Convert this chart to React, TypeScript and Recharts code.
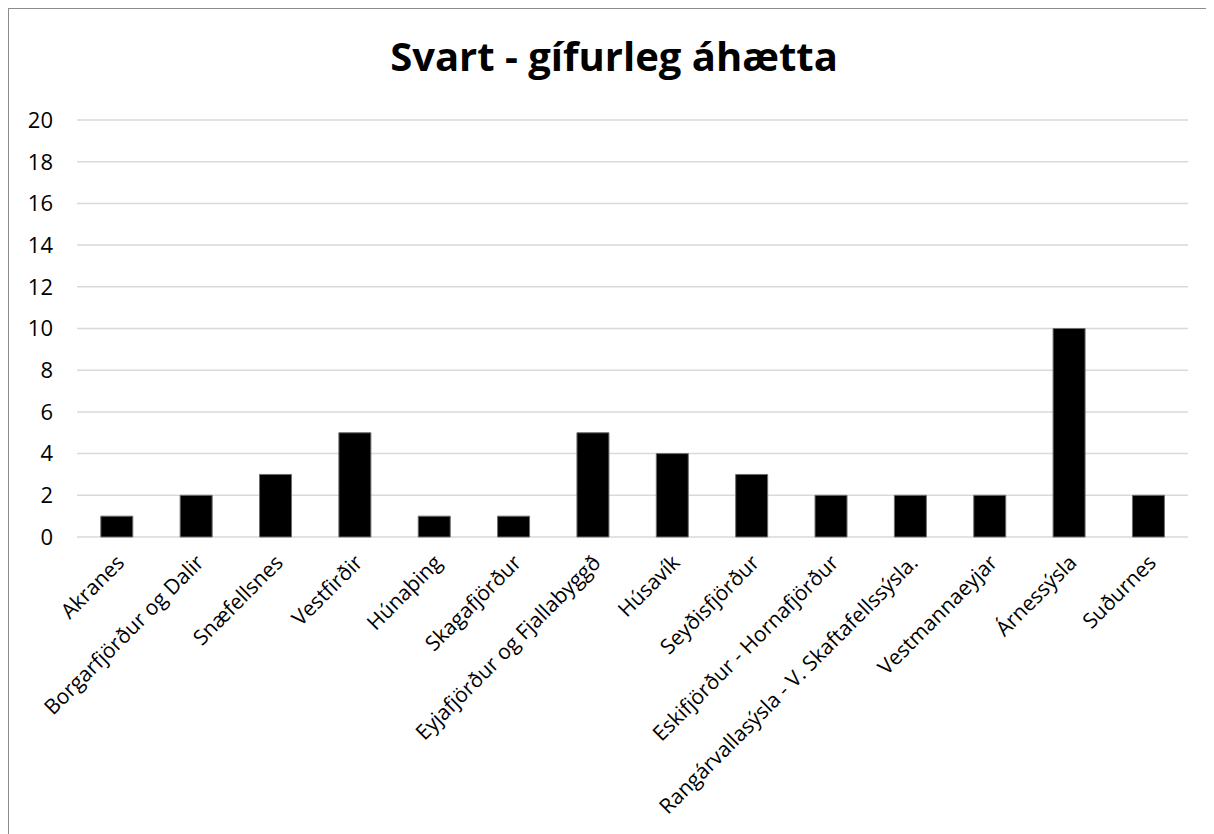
import { Bar, BarChart, CartesianGrid, XAxis, YAxis } from "recharts";

const regions = [
  "Akranes",
  "Borgarfjörður og Dalir",
  "Snæfellsnes",
  "Vestfirðir",
  "Húnaþing",
  "Skagafjörður",
  "Eyjafjörður og Fjallabyggð",
  "Húsavík",
  "Seyðisfjörður",
  "Eskifjörður - Hornafjörður",
  "Rangárvallasýsla - V. Skaftafellssýsla.",
  "Vestmannaeyjar",
  "Árnessýsla",
  "Suðurnes",
];

const counts = [1, 2, 3, 5, 1, 1, 5, 4, 3, 2, 2, 2, 10, 2];

const yTicks = [0, 2, 4, 6, 8, 10, 12, 14, 16, 18, 20];
const edgeTicks = regions.map((_, i) => i).concat(regions.length);

const data = regions.map((name, i) => ({ name, value: counts[i] }));

const FONT = "'Open Sans', sans-serif";

const RegionTick = (props: any) => {
  const { x, y, payload } = props;
  return (
    <g transform={`translate(${x + 9},${y + 25})`}>
      <text
        x={0}
        y={0}
        textAnchor="end"
        transform="rotate(-45)"
        fontSize={21}
        fontFamily={FONT}
        fill="#000"
      >
        {payload.value}
      </text>
    </g>
  );
};

const App = () => {
  return (
    <div
      style={{
        position: "relative",
        width: 1205,
        height: 825,
        borderLeft: "1px solid #8c8c8c",
        borderTop: "1px solid #8c8c8c",
        background: "#fff",
      }}
    >
      <div
        style={{
          position: "absolute",
          top: 19,
          left: 0,
          width: 1210,
          textAlign: "center",
          fontFamily: FONT,
          fontWeight: 700,
          fontSize: 40,
          color: "#000",
        }}
      >
        Svart - gífurleg áhætta
      </div>
      <BarChart
        width={1205}
        height={825}
        data={data}
        margin={{ top: 111, right: 26, bottom: 0, left: 0 }}
        barCategoryGap="30%"
      >
        <CartesianGrid vertical={false} stroke="#d9d9d9" strokeWidth={1.5} xAxisId="cat" />
        <XAxis
          xAxisId="edges"
          type="number"
          domain={[0, regions.length]}
          ticks={edgeTicks}
          tick={false}
          tickSize={7}
          height={0}
          stroke="#868686"
          axisLine={{ stroke: "#868686", strokeWidth: 1.5 }}
          tickLine={{ stroke: "#868686", strokeWidth: 1.5 }}
          allowDataOverflow
        />
        <XAxis
          xAxisId="cat"
          dataKey="name"
          interval={0}
          axisLine={false}
          tickLine={false}
          tickSize={0}
          height={297}
          tick={<RegionTick />}
        />
        <YAxis
          domain={[0, 20]}
          ticks={yTicks}
          interval={0}
          width={68}
          axisLine={false}
          tickLine={false}
          tickSize={0}
          tickMargin={24}
          tick={{ fontSize: 22, fontFamily: FONT, fill: "#000" }}
        />
        <Bar
          xAxisId="cat"
          dataKey="value"
          fill="#000"
          stroke="#6e6e6e"
          strokeWidth={1}
          isAnimationActive={false}
        />
      </BarChart>
    </div>
  );
};

export default App;
